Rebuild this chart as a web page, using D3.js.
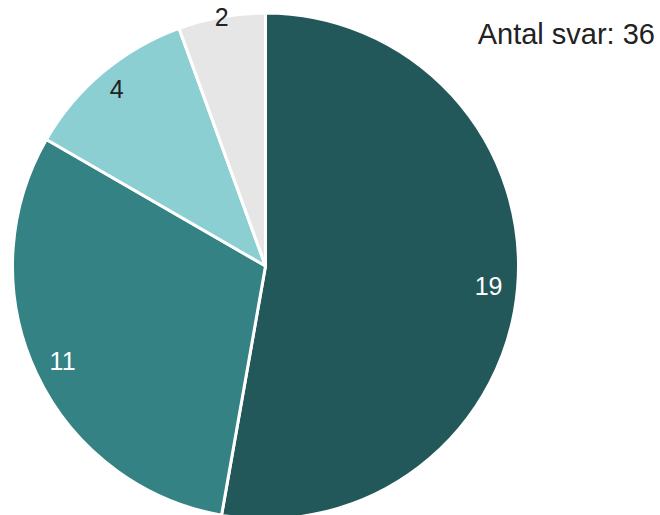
<!DOCTYPE html>
<html>
<head>
<meta charset="utf-8">
<script src="https://cdn.jsdelivr.net/npm/d3@7"></script>
<style>
  html, body { margin: 0; padding: 0; background: #fff; }
  svg { display: block; }
</style>
</head>
<body>
<svg id="chart"></svg>
<script>
const svgWidth = 660;
const svgHeight = 515;

// slice data, clockwise from 12 o'clock
const categories = ["A", "B", "C", "D"];
const values = [19, 11, 4, 2];
const sliceColors = ["#23585a", "#348283", "#8ccfd3", "#e6e6e6"];
const labelColors = ["#ffffff", "#ffffff", "#222222", "#222222"];
const totalLabel = "Antal svar: 36";

const cx = 265.5;
const cy = 266;
const radius = 253;

const svg = d3.select("#chart")
  .attr("width", svgWidth)
  .attr("height", svgHeight);

const g = svg.append("g")
  .attr("transform", "translate(" + cx + "," + cy + ")");

const data = categories.map((c, i) => ({ cat: c, value: values[i], i: i }));

const pie = d3.pie()
  .sort(null)
  .value(d => d.value);

const arc = d3.arc()
  .innerRadius(0)
  .outerRadius(radius);

const arcs = pie(data);

g.selectAll("path")
  .data(arcs)
  .join("path")
  .attr("d", arc)
  .attr("fill", d => sliceColors[d.data.i])
  .attr("stroke", "#fff")
  .attr("stroke-width", 3)
  .attr("stroke-linejoin", "round");

// narrow slices get their label pushed further out toward the rim
const labelArc = d => {
  let span = d.endAngle - d.startAngle;
  let r = span < 0.5 ? radius * 1.0 : (span < 1 ? radius * 0.915 : radius * 0.885);
  return d3.arc().innerRadius(r).outerRadius(r).centroid(d);
};

g.selectAll("text.val")
  .data(arcs)
  .join("text")
  .attr("class", "val")
  .attr("x", d => labelArc(d)[0])
  .attr("y", d => labelArc(d)[1])
  .attr("text-anchor", "middle")
  .attr("dominant-baseline", "central")
  .attr("font-family", "Liberation Sans, Arial, sans-serif")
  .attr("font-size", 25)
  .attr("fill", d => labelColors[d.data.i])
  .text(d => d.data.value);

svg.append("text")
  .attr("x", 655)
  .attr("y", 44)
  .attr("text-anchor", "end")
  .attr("font-family", "Liberation Sans, Arial, sans-serif")
  .attr("font-size", 29)
  .attr("fill", "#222")
  .text(totalLabel);
</script>
</body>
</html>
